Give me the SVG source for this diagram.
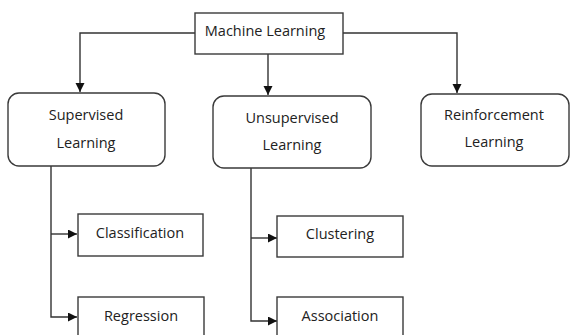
<svg xmlns="http://www.w3.org/2000/svg" width="571" height="335" viewBox="0 0 571 335">
<style>
.box{fill:#fff;stroke:#3a3a3a;stroke-width:1.4}
.t{font-family:"Open Sans","Liberation Sans",sans-serif;font-size:14.5px;fill:#222;text-anchor:middle;dominant-baseline:central}
.c{fill:none;stroke:#333;stroke-width:1.4}
</style>
<defs>
<marker id="ah" markerWidth="10" markerHeight="10" refX="9" refY="4.5" orient="auto" markerUnits="userSpaceOnUse">
<path d="M0,0 L9,4.5 L0,9 Z" fill="#111"/>
</marker>
</defs>
<rect width="571" height="335" fill="#fff"/>
<g id="connectors">
<path class="c" d="M195,33 H80 V92" marker-end="url(#ah)"/>
<path class="c" d="M268,54 V95" marker-end="url(#ah)"/>
<path class="c" d="M343,33 H457 V93" marker-end="url(#ah)"/>
<path class="c" d="M51,166 V317 H77" marker-end="url(#ah)"/>
<path class="c" d="M51,234 H77" marker-end="url(#ah)"/>
<path class="c" d="M251,168 V321 H277" marker-end="url(#ah)"/>
<path class="c" d="M251,238 H277" marker-end="url(#ah)"/>
</g>
<g id="machine-learning">
<rect class="box" x="195" y="13" width="148" height="41"/>
<text class="t" x="265" y="30">Machine Learning</text>
</g>
<g id="supervised">
<rect class="box" x="8" y="93" width="157" height="73" rx="11"/>
<text class="t" x="86" y="114">Supervised</text>
<text class="t" x="86" y="142">Learning</text>
</g>
<g id="unsupervised">
<rect class="box" x="213" y="96" width="158" height="72" rx="11"/>
<text class="t" x="292" y="117">Unsupervised</text>
<text class="t" x="292" y="144">Learning</text>
</g>
<g id="reinforcement">
<rect class="box" x="421" y="94" width="148" height="72" rx="11"/>
<text class="t" x="494" y="114">Reinforcement</text>
<text class="t" x="494" y="141">Learning</text>
</g>
<g id="classification">
<rect class="box" x="78" y="214" width="125" height="42"/>
<text class="t" x="140" y="232">Classification</text>
</g>
<g id="regression">
<rect class="box" x="78" y="297" width="126" height="42"/>
<text class="t" x="141" y="315">Regression</text>
</g>
<g id="clustering">
<rect class="box" x="277" y="216" width="126" height="41"/>
<text class="t" x="340" y="233">Clustering</text>
</g>
<g id="association">
<rect class="box" x="277" y="297" width="126" height="42"/>
<text class="t" x="340" y="315">Association</text>
</g>
</svg>
